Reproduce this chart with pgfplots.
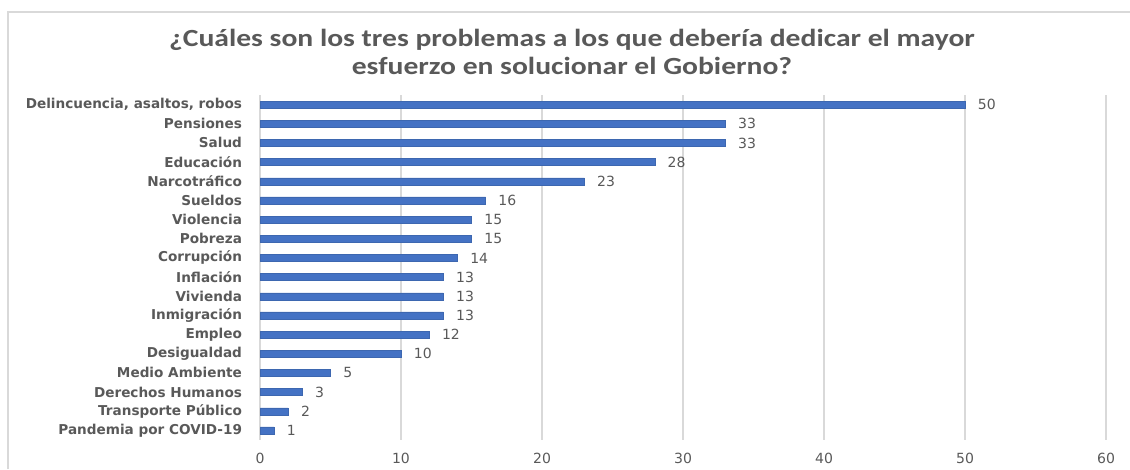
\documentclass[border=0pt]{standalone}
\usepackage{fontspec}
\setmainfont{DejaVu Sans}
\newfontfamily\titlefont{Carlito}
\usepackage{pgfplots}
\pgfplotsset{compat=1.18}
\definecolor{barblue}{HTML}{4472C4}
\definecolor{gridgray}{HTML}{D9D9D9}
\definecolor{labgray}{HTML}{595959}
\definecolor{numgray}{HTML}{595959}
\begin{document}
\begin{tikzpicture}
\begin{axis}[
  at={(195pt,21.75pt)}, anchor=south west,
  scale only axis, width=634.5pt, height=258.75pt,
  xbar, bar width=5.25pt,
  xmin=0, xmax=60, ymin=-0.5, ymax=17.5, y dir=reverse,
  xtick={0,10,...,60}, ytick={0,...,17},
  yticklabels={{Delincuencia, asaltos, robos},Pensiones,Salud,Educación,Narcotráfico,Sueldos,Violencia,Pobreza,Corrupción,Inflación,Vivienda,Inmigración,Empleo,Desigualdad,Medio Ambiente,Derechos Humanos,Transporte Público,Pandemia por COVID-19},
  xmajorgrids, major grid style={gridgray, line width=1.5pt},
  axis line style={draw=none}, major tick length=0pt,
  /pgf/number format/assume math mode=true,
  xticklabel style={font=\fontsize{10.5}{12}\selectfont, text=numgray, anchor=north, yshift=-6.5pt},
  yticklabel style={font=\bfseries\fontsize{10.2}{12}\selectfont, text=labgray, anchor=east, xshift=-10pt},
  nodes near coords,
  every node near coord/.append style={font=\fontsize{10.5}{12}\selectfont, text=numgray, anchor=west, xshift=9.5pt, inner sep=0pt},
]
\addplot[fill=barblue, draw=barblue!90!black, line width=0.3pt] coordinates {
  (50,0) (33,1) (33,2) (28,3) (23,4) (16,5) (15,6) (15,7) (14,8)
  (13,9) (13,10) (13,11) (12,12) (10,13) (5,14) (3,15) (2,16) (1,17)
};
\end{axis}
\node[text=labgray] at (429pt,310.5pt) {\scalebox{1.2}[1]{\titlefont\bfseries\fontsize{18.5}{20.25}\selectfont
  \begin{tabular}{@{}c@{}}¿Cuáles son los tres problemas a los que debería dedicar el mayor\\[1pt]esfuerzo en solucionar el Gobierno?\end{tabular}}};
\draw[gridgray, line width=1pt] (6pt,0pt) -- (6pt,342.75pt) -- (847.5pt,342.75pt);
\pgfresetboundingbox
\path[use as bounding box] (0pt,0pt) rectangle (847.5pt,351.75pt);
\end{tikzpicture}
\end{document}
